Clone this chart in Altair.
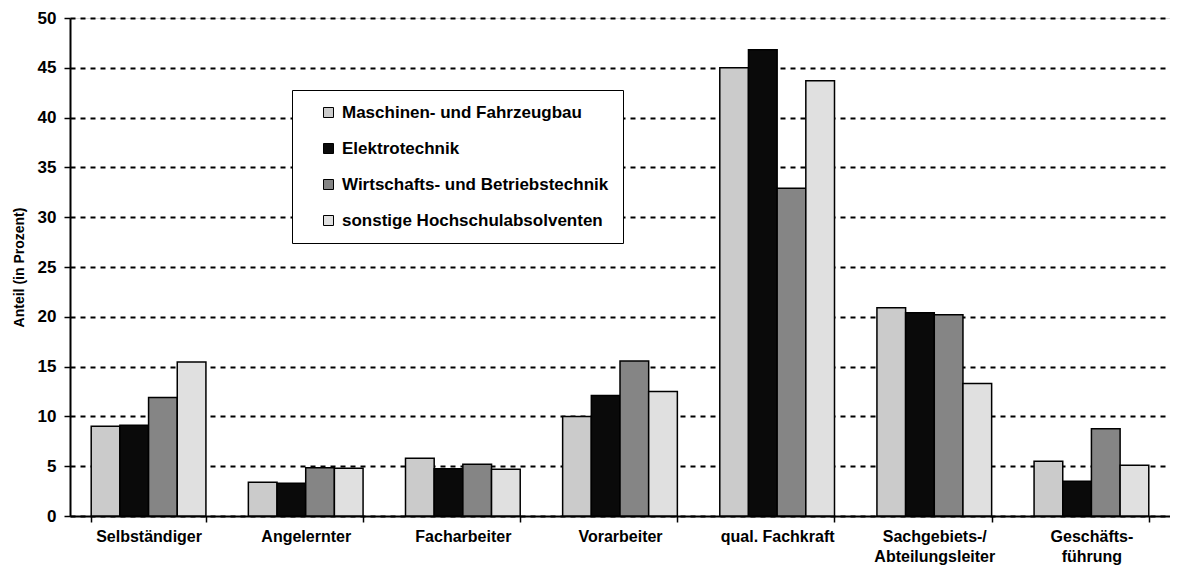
import altair as alt
import pandas as pd

categories = ["Selbständiger", "Angelernter", "Facharbeiter", "Vorarbeiter",
              "qual. Fachkraft", "Sachgebiets-/|Abteilungsleiter", "Geschäfts-|führung"]
series = ["Maschinen- und Fahrzeugbau", "Elektrotechnik",
          "Wirtschafts- und Betriebstechnik", "sonstige Hochschulabsolventen"]
maschinen = [9.0, 3.4, 5.8, 10.0, 45.0, 20.9, 5.5]
elektro = [9.1, 3.3, 4.75, 12.1, 46.8, 20.4, 3.5]
wirtschaft = [11.9, 4.85, 5.2, 15.55, 32.9, 20.2, 8.75]
sonstige = [15.45, 4.8, 4.7, 12.5, 43.7, 13.3, 5.1]
colors = ["#cbcbcb", "#0a0a0a", "#858585", "#e0e0e0"]

rows = []
for s, vals in zip(series, [maschinen, elektro, wirtschaft, sonstige]):
    for c, v in zip(categories, vals):
        rows.append({"Beruf": c, "Gruppe": s, "Anteil": v})
df = pd.DataFrame(rows)

FONT = "Liberation Sans"

chart = alt.Chart(df).mark_bar(stroke="black", strokeWidth=1.5).encode(
    x=alt.X("Beruf:N", sort=categories,
            scale=alt.Scale(paddingInner=0.27, paddingOuter=0.135),
            axis=alt.Axis(title=None, labelAngle=0, tickBand="extent",
                          labelExpr="split(datum.label, '|')",
                          labelFont=FONT, labelFontSize=16, labelFontWeight="bold",
                          labelColor="black",
                          labelPadding=6, labelLineHeight=20,
                          domainColor="black", domainWidth=2,
                          tickColor="black", tickWidth=1.5, tickSize=6)),
    xOffset=alt.XOffset("Gruppe:N", sort=series, scale=alt.Scale(paddingInner=0, paddingOuter=0)),
    y=alt.Y("Anteil:Q", scale=alt.Scale(domain=[0, 50], nice=False),
            axis=alt.Axis(title="Anteil (in Prozent)", values=list(range(0, 51, 5)),
                          titleFont=FONT, titleFontSize=14, titleFontWeight="bold",
                          titleColor="black", titlePadding=11,
                          labelFont=FONT, labelFontSize=17, labelFontWeight="bold",
                          labelColor="black", labelPadding=8,
                          domainColor="black", domainWidth=2,
                          tickColor="black", tickWidth=1.5, tickSize=6,
                          grid=True, gridColor="black", gridDash=[5, 5],
                          gridWidth=2)),
    fill=alt.Fill("Gruppe:N", sort=series,
                  scale=alt.Scale(domain=series, range=colors),
                  legend=alt.Legend(title=None, orient="none", legendX=222, legendY=72,
                                    fillColor="white", strokeColor="black",
                                    padding=14, symbolOffset=14, rowPadding=18,
                                    symbolType="square", symbolSize=100,
                                    symbolStrokeColor="black", symbolStrokeWidth=1,
                                    labelFont=FONT, labelFontSize=17, labelFontWeight="bold",
                                    labelColor="black",
                                    labelLimit=400, labelOffset=5)),
).properties(
    width=1100, height=498,
    autosize=alt.AutoSizeParams(type="none"),
    padding={"left": 62, "top": 10, "right": 0, "bottom": 50},
).configure_view(stroke=None).configure(background="white")

chart.save("out.html", embed_options={"renderer": "svg", "actions": False})
